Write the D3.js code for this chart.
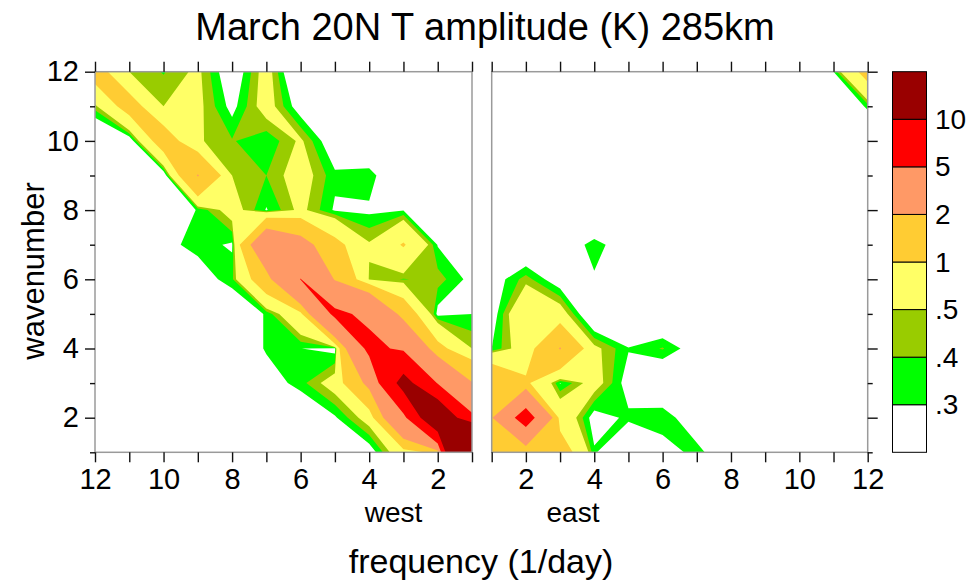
<!DOCTYPE html>
<html>
<head>
<meta charset="utf-8">
<script src="https://cdn.jsdelivr.net/npm/d3@7"></script>
<style>
  body { margin: 0; background: #fff; }
  text { font-family: "Liberation Sans", Arial, Helvetica, sans-serif; fill: #000; }
</style>
</head>
<body>
<svg id="chart" width="972" height="583"></svg>
<script>
// Grid rows: wavenumber, top to bottom
const wavenumbers = [12, 11, 10, 9, 8, 7, 6, 5, 4, 3, 2, 1];
// Grid columns: westward frequency (left panel) and eastward frequency (right panel)
const westFreq = [12, 11, 10, 9, 8, 7, 6, 5, 4, 3, 2, 1];
const eastFreq = [1, 2, 3, 4, 5, 6, 7, 8, 9, 10, 11, 12];

// Contour levels and shading
const levels = [0.3, 0.4, 0.5, 1, 2, 5, 10];
const levelLabels = [".3", ".4", ".5", "1", "2", "5", "10"];
const bandColors = ["#ffffff", "#00ff00", "#99cc00", "#ffff66", "#ffcc33", "#ff9966", "#ff0000", "#990000"];

// T amplitude (K), westward waves: one row per wavenumber, columns follow westFreq
const westAmp = [
  [1.3, 0.5, 0.39, 0.54, 0.15, 0.6, 0, 0, 0, 0, 0, 0],
  [0.45, 1.3, 0.5, 0.55, 0.25, 0.6, 0.2, 0, 0, 0, 0, 0],
  [0, 0.15, 1.4, 0.52, 0.41, 0.32, 0.53, 0.15, 0, 0, 0, 0],
  [0, 0, 0.15, 2.05, 0.5, 0.4, 0.6, 0.33, 0.38, 0, 0, 0],
  [0, 0, 0, 0.32, 0.6, 0.29, 0.55, 0.28, 0.27, 0.29, 0, 0],
  [0, 0, 0.25, 0.35, 0.28, 3.5, 2.5, 1.2, 0.52, 1.05, 0.29, 0],
  [0, 0, 0, 0.2, 0.37, 1.5, 5.05, 1.9, 0.48, 0.39, 0.45, 0.25],
  [0, 0, 0, 0, 0.1, 0.32, 0.8, 5.6, 4.4, 1.5, 0.25, 0.3],
  [0, 0, 0, 0, 0.1, 0.32, 0.302, 0.25, 5.78, 4.5, 1.2, 0.5],
  [0, 0, 0, 0, 0, 0.2, 0.36, 0.6, 2.3, 12, 4.8, 2.05],
  [0, 0, 0, 0, 0, 0, 0.1, 0.28, 0.6, 4, 16, 5.5],
  [0, 0, 0, 0, 0, 0, 0, 0, 0.2, 0.7, 1.2, 40]
];

// T amplitude (K), eastward waves: one row per wavenumber, columns follow eastFreq
const eastAmp = [
  [0, 0, 0, 0, 0, 0, 0, 0, 0, 0, 0.3, 1.27],
  [0, 0, 0, 0, 0, 0, 0, 0, 0, 0, 0, 0.337],
  [0, 0, 0, 0, 0, 0, 0, 0, 0, 0, 0, 0],
  [0, 0, 0, 0, 0, 0, 0, 0, 0, 0, 0, 0],
  [0, 0, 0, 0, 0, 0, 0, 0, 0, 0, 0, 0],
  [0, 0.05, 0.15, 0.36, 0.18, 0, 0, 0, 0, 0, 0, 0],
  [0.2, 0.45, 0.18, 0.28, 0, 0, 0, 0, 0, 0, 0, 0],
  [0.2, 0.8, 0.63, 0.05, 0, 0.04, 0, 0, 0, 0, 0, 0],
  [0.3, 0.65, 2.05, 0.55, 0.31, 0.41, 0.2, 0, 0, 0, 0, 0],
  [1.9, 1.1, 0.29, 0.6, 0.22, 0.05, 0, 0, 0, 0, 0, 0],
  [1.9, 6.5, 0.75, 0.22, 0.33, 0.4, 0.14, 0, 0, 0, 0, 0],
  [1.3, 0.98, 1.4, 0.32, 0.07, 0.2, 0.36, 0.1, 0, 0, 0, 0]
];

const tickVals = d3.range(1, 13);

const svg = d3.select("#chart");
svg.append("rect").attr("width", 972).attr("height", 583).attr("fill", "#fff");

const plotTop = 71.7, plotBottom = 452.3;
const y = d3.scaleLinear().domain([12, 1]).range([plotTop, plotBottom]);

const panels = [
  { freq: westFreq, amp: westAmp, x: d3.scaleLinear().domain([12, 1]).range([95, 472]), left: true },
  { freq: eastFreq, amp: eastAmp, x: d3.scaleLinear().domain([1, 12]).range([491.7, 867.7]), left: false }
];

const tickFont = 29;
function styleAxis(g) {
  g.select(".domain").remove();
  g.selectAll(".tick line").attr("stroke", "#111").attr("stroke-width", 1.4);
  g.selectAll(".tick text").attr("font-size", tickFont).attr("fill", "#000")
    .style("font-family", '"Liberation Sans", Arial, sans-serif');
}

panels.forEach((p, pi) => {
  const n = p.freq.length, m = wavenumbers.length;
  // Shade from the top band downwards: each layer covers where amplitude <= level,
  // so ridges running across grid cells stay joined at saddle points.
  const negValues = p.amp.flat().map(v => -v);
  const lowRegions = d3.contours().size([n, m]).thresholds(levels.map(t => -t))(negValues);

  // contour grid coordinates -> frequency / wavenumber (grid values sit at cell centres)
  const fAt = d3.scaleLinear().domain([0, n - 1]).range([p.freq[0], p.freq[n - 1]]);
  const kAt = d3.scaleLinear().domain([0, m - 1]).range([wavenumbers[0], wavenumbers[m - 1]]);
  const proj = d3.geoTransform({
    point(cx, cy) { this.stream.point(p.x(fAt(cx - 0.5)), y(kAt(cy - 0.5))); }
  });
  const path = d3.geoPath(proj);

  const [x0, x1] = d3.extent(p.x.range());
  const clipId = "plotclip" + pi;
  svg.append("clipPath").attr("id", clipId)
    .append("rect").attr("x", x0).attr("y", plotTop).attr("width", x1 - x0).attr("height", plotBottom - plotTop);

  const g = svg.append("g").attr("clip-path", `url(#${clipId})`);
  g.append("rect").attr("x", x0).attr("y", plotTop).attr("width", x1 - x0).attr("height", plotBottom - plotTop)
    .attr("fill", bandColors[bandColors.length - 1]);
  const layers = levels.map((t, i) => ({ level: t, color: bandColors[i],
    geom: lowRegions.find(c => Math.abs(c.value + t) < 1e-9) }))
    .sort((a, b) => b.level - a.level);
  g.selectAll("path.band").data(layers).join("path").attr("class", "band")
    .attr("d", d => path(d.geom))
    .attr("fill", d => d.color);

  // frame
  svg.append("rect").attr("x", x0).attr("y", plotTop).attr("width", x1 - x0).attr("height", plotBottom - plotTop)
    .attr("fill", "none").attr("stroke", "#9a9a9a").attr("stroke-width", 1.5);

  // bottom axis with labels on even frequencies
  const gb = svg.append("g").attr("transform", `translate(0,${plotBottom})`)
    .call(d3.axisBottom(p.x).tickValues(tickVals).tickSize(10).tickPadding(6)
      .tickFormat(d => d % 2 === 0 ? d : ""));
  styleAxis(gb);

  // top axis, ticks only
  const gt = svg.append("g").attr("transform", `translate(0,${plotTop})`)
    .call(d3.axisTop(p.x).tickValues(tickVals).tickSize(10).tickFormat(""));
  styleAxis(gt);

  // wavenumber axis: labelled on the left panel, ticks on the right side of the east panel
  const major = tickVals.filter(d => d % 2 === 0);
  const minor = tickVals.filter(d => d % 2 === 1);
  if (p.left) {
    const gl = svg.append("g").attr("transform", `translate(${x0},0)`)
      .call(d3.axisLeft(y).tickValues(major).tickSize(10).tickPadding(6));
    styleAxis(gl);
    const gl2 = svg.append("g").attr("transform", `translate(${x0},0)`)
      .call(d3.axisLeft(y).tickValues(minor).tickSize(5).tickFormat(""));
    styleAxis(gl2);
  } else {
    const gr = svg.append("g").attr("transform", `translate(${x1},0)`)
      .call(d3.axisRight(y).tickValues(major).tickSize(10).tickFormat(""));
    styleAxis(gr);
    const gr2 = svg.append("g").attr("transform", `translate(${x1},0)`)
      .call(d3.axisRight(y).tickValues(minor).tickSize(5).tickFormat(""));
    styleAxis(gr2);
  }
});

// titles
svg.append("text").attr("x", 485).attr("y", 40).attr("text-anchor", "middle")
  .attr("font-size", 38).text("March 20N T amplitude (K) 285km");
svg.append("text").attr("transform", "translate(44,271) rotate(-90)").attr("text-anchor", "middle")
  .attr("font-size", 31).text("wavenumber");
svg.append("text").attr("x", 393.5).attr("y", 522).attr("text-anchor", "middle")
  .attr("font-size", 28).text("west");
svg.append("text").attr("x", 573).attr("y", 522).attr("text-anchor", "middle")
  .attr("font-size", 28).text("east");
svg.append("text").attr("x", 481).attr("y", 573).attr("text-anchor", "middle")
  .attr("font-size", 34).text("frequency (1/day)");

// colour bar
const cbX = 892.5, cbW = 34;
const cbY = d3.scaleLinear().domain([0, bandColors.length]).range([plotBottom, plotTop]);
const cb = svg.append("g");
cb.selectAll("rect").data(bandColors).join("rect")
  .attr("x", cbX).attr("width", cbW)
  .attr("y", (d, i) => cbY(i + 1)).attr("height", (d, i) => cbY(i) - cbY(i + 1))
  .attr("fill", d => d).attr("stroke", "#000").attr("stroke-width", 1);
cb.selectAll("text").data(levelLabels).join("text")
  .attr("x", 935).attr("y", (d, i) => cbY(i + 1))
  .attr("dominant-baseline", "central")
  .attr("font-size", 28).text(d => d);
</script>
</body>
</html>
